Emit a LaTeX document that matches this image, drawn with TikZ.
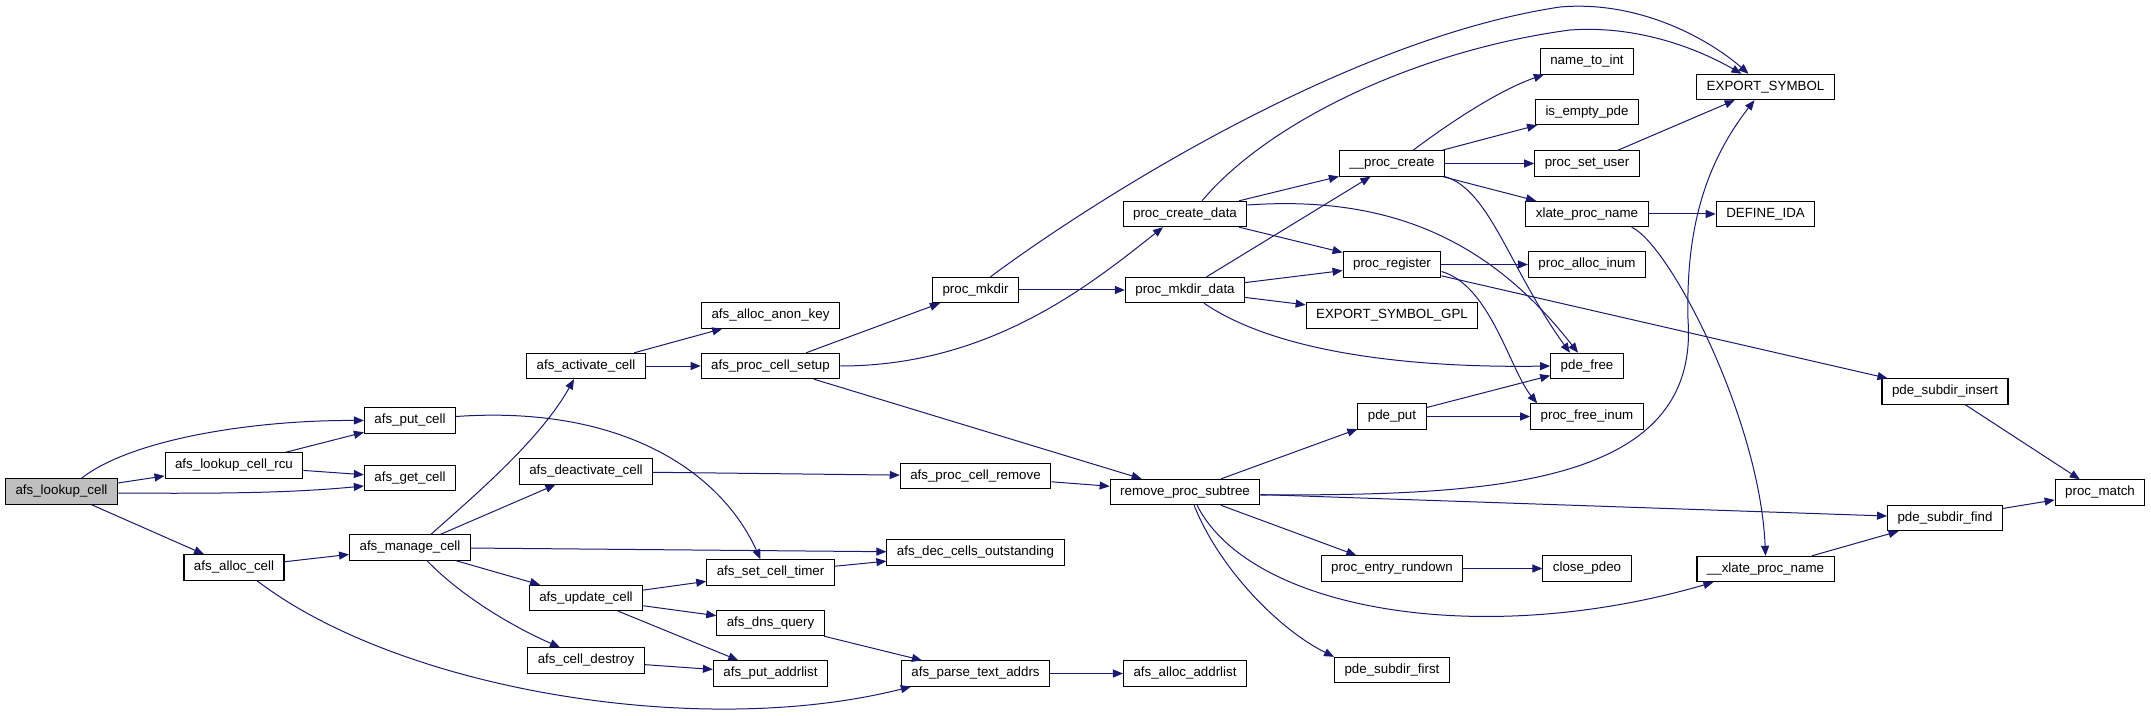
\documentclass[tikz,border=0pt]{standalone}
\usepackage{fontspec}
\setmainfont{Liberation Sans}
\usepackage{tikz}
\usetikzlibrary{arrows.meta,calc}
\definecolor{DoxEdge}{RGB}{25,25,112}
\definecolor{DoxRoot}{RGB}{191,191,191}

\begin{document}
\begin{tikzpicture}[x=0.75pt,y=-0.75pt,
    fn/.style={draw=black, line width=0.8pt, fill=white, font=\fontsize{10pt}{12pt}\selectfont, inner xsep=7.5pt, inner ysep=0pt, minimum height=19pt, text height=7.3pt, text depth=2.2pt},
    fnroot/.style={fn, fill=DoxRoot},
    call/.style={draw=DoxEdge, line width=0.75pt, -{Triangle[length=7.5pt,width=6pt]}}
  ]
    \useasboundingbox (0,0) rectangle (2151,716);
    \node[fnroot] (lookup) at (61.5,491.5) {afs\_lookup\_cell};
    \node[fn] (rcu) at (234,465.5) {afs\_lookup\_cell\_rcu};
    \node[fn] (alloc) at (234,567.5) {afs\_alloc\_cell};
    \node[fn] (put) at (410,420.5) {afs\_put\_cell};
    \node[fn] (get) at (410,478) {afs\_get\_cell};
    \node[fn] (manage) at (410,547.5) {afs\_manage\_cell};
    \node[fn] (activate) at (586,366) {afs\_activate\_cell};
    \node[fn] (deactivate) at (586,471.5) {afs\_deactivate\_cell};
    \node[fn] (update) at (586,598) {afs\_update\_cell};
    \node[fn] (destroy) at (586,660.5) {afs\_cell\_destroy};
    \node[fn] (anonkey) at (770.5,315.5) {afs\_alloc\_anon\_key};
    \node[fn] (setup) at (770.5,366) {afs\_proc\_cell\_setup};
    \node[fn] (timer) at (770.5,572.5) {afs\_set\_cell\_timer};
    \node[fn] (dns) at (770.5,623) {afs\_dns\_query};
    \node[fn] (putaddr) at (770.5,673.5) {afs\_put\_addrlist};
    \node[fn] (mkdir) at (975.5,290) {proc\_mkdir};
    \node[fn] (remove) at (975.5,476) {afs\_proc\_cell\_remove};
    \node[fn] (dec) at (975.5,552.5) {afs\_dec\_cells\_outstanding};
    \node[fn] (parse) at (975.5,673.5) {afs\_parse\_text\_addrs};
    \node[fn] (createdata) at (1185,214) {proc\_create\_data};
    \node[fn] (mkdirdata) at (1185,290) {proc\_mkdir\_data};
    \node[fn] (subtree) at (1185,492) {remove\_proc\_subtree};
    \node[fn] (allocaddr) at (1185,673.5) {afs\_alloc\_addrlist};
    \node[fn] (pcreate) at (1392,163.5) {\_\_proc\_create};
    \node[fn] (register) at (1392,264.5) {proc\_register};
    \node[fn] (gpl) at (1392,315.5) {EXPORT\_SYMBOL\_GPL};
    \node[fn] (pdeput) at (1392,416.5) {pde\_put};
    \node[fn] (rundown) at (1392,568.5) {proc\_entry\_rundown};
    \node[fn] (first) at (1392,670) {pde\_subdir\_first};
    \node[fn] (nametoint) at (1587,61.5) {name\_to\_int};
    \node[fn] (isempty) at (1587,112) {is\_empty\_pde};
    \node[fn] (setuser) at (1587,163.5) {proc\_set\_user};
    \node[fn] (xlate) at (1587,214) {xlate\_proc\_name};
    \node[fn] (allocinum) at (1587,264.5) {proc\_alloc\_inum};
    \node[fn] (pdefree) at (1587,366) {pde\_free};
    \node[fn] (freeinum) at (1587,416.5) {proc\_free\_inum};
    \node[fn] (closepdeo) at (1587,568.5) {close\_pdeo};
    \node[fn] (export) at (1765.5,87) {EXPORT\_SYMBOL};
    \node[fn] (defineida) at (1765.5,214) {DEFINE\_IDA};
    \node[fn] (xxlate) at (1765.5,569) {\_\_xlate\_proc\_name};
    \node[fn] (insert) at (1945,391.5) {pde\_subdir\_insert};
    \node[fn] (find) at (1945,518) {pde\_subdir\_find};
    \node[fn] (match) at (2100,492.5) {proc\_match};
    \foreach \a/\b in {lookup/rcu, lookup/alloc, rcu/put, rcu/get, alloc/manage,
        manage/deactivate, manage/dec, manage/update, activate/anonkey, activate/setup,
        deactivate/remove, update/timer, update/dns, update/putaddr, destroy/putaddr,
        timer/dec, dns/parse, parse/allocaddr, setup/mkdir, setup/subtree, remove/subtree,
        mkdir/mkdirdata, createdata/pcreate, createdata/register, mkdirdata/pcreate,
        mkdirdata/register, mkdirdata/gpl, pcreate/isempty, pcreate/setuser, pcreate/xlate,
        register/allocinum, register/insert, pdeput/pdefree, pdeput/freeinum, subtree/pdeput,
        subtree/find, subtree/rundown, rundown/closepdeo, setuser/export, xlate/defineida,
        insert/match, find/match, xxlate/find}
      {\draw[call] (\a) -- (\b);}
    \draw[call] ($(lookup.north)+(20,0)$) .. controls (130,440) and (250,420) .. (put.west);
    \draw[call] ($(lookup.east)+(0,1.5)$) .. controls (240,494) and (300,492) .. ($(get.west)+(0,8)$);
    \draw[call] ($(put.east)+(0,-4)$) .. controls (620,405) and (720,470) .. ($(timer.north)+(-10,0)$);
    \draw[call] ($(alloc.south)+(23,0)$) .. controls (400,690) and (700,740) .. ($(parse.south west)+(10,0)$);
    \draw[call] ($(manage.north)+(21,0)$) .. controls (475,495) and (540,440) .. ($(activate.south)+(-12,0)$);
    \draw[call] ($(manage.south)+(17,0)$) .. controls (465,600) and (520,630) .. ($(destroy.north)+(-26,0)$);
    \draw[call] (setup.east) .. controls (990,366) and (1090,285) .. ($(createdata.south)+(-22,0)$);
    \draw[call] ($(mkdir.north)+(15,0)$) .. controls (1080,210) and (1340,40) .. (1560,7) .. controls (1640,0) and (1710,40) .. ($(export.north)+(-17,0)$);
    \draw[call] ($(createdata.north)+(17,0)$) .. controls (1270,120) and (1420,50) .. (1570,30) .. controls (1640,25) and (1700,50) .. ($(export.north)+(-24,0)$);
    \draw[call] ($(createdata.east)+(0,-9)$) .. controls (1390,195) and (1490,240) .. ($(pdefree.north)+(-9,0)$);
    \draw[call] ($(mkdirdata.south)+(19,0)$) .. controls (1280,355) and (1420,368) .. (pdefree.west);
    \draw[call] ($(pcreate.north)+(21,0)$) .. controls (1460,115) and (1505,88) .. ($(nametoint.south west)+(4,0)$);
    \draw[call] (pcreate.south east) .. controls (1490,190) and (1510,270) .. ($(pdefree.north)+(-17,0)$);
    \draw[call] ($(register.east)+(0,7)$) .. controls (1490,285) and (1510,370) .. ($(freeinum.north west)+(7,0)$);
    \draw[call] ($(xlate.south east)+(-17,0)$) .. controls (1670,245) and (1760,420) .. (xxlate.north);
    \draw[call] ($(subtree.east)+(0,3)$) .. controls (1480,495) and (1700,490) .. (1688,320) .. controls (1686,240) and (1700,170) .. ($(export.south)+(-11,0)$);
    \draw[call] ($(subtree.south)+(12,0)$) .. controls (1250,610) and (1480,650) .. ($(xxlate.south west)+(17,0)$);
    \draw[call] ($(subtree.south)+(9,0)$) .. controls (1220,570) and (1280,630) .. (first.north west);
  \end{tikzpicture}
\end{document}
